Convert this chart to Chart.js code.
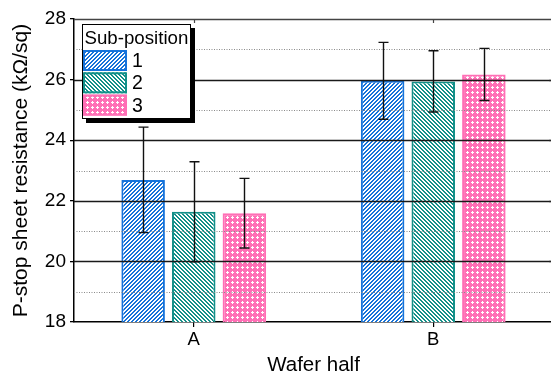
<!DOCTYPE html>
<html>
<head>
<meta charset="utf-8">
<script src="https://cdn.jsdelivr.net/npm/chart.js@4/dist/chart.umd.min.js"></script>
<style>
html,body{margin:0;padding:0;background:#fff;overflow:hidden;}
#wrap{width:551px;height:378px;overflow:hidden;}
</style>
</head>
<body>
<div id="wrap"><canvas id="c" width="556" height="378"></canvas></div>
<script>
// ---- data ----
const categories = ['A', 'B'];
const seriesLabels = ['1', '2', '3'];
const legendTitle = 'Sub-position';
const sub1 = [22.69, 25.96];
const sub1Err = [1.74, 1.27];
const sub2 = [21.64, 25.94];
const sub2Err = [1.65, 1.01];
const sub3 = [21.59, 26.17];
const sub3Err = [1.15, 0.86];
const yMin = 18, yMax = 28;
const xTitle = 'Wafer half';
const yTitle = 'P-stop sheet resistance (k\u03A9/sq)';

const FONT = "'Liberation Sans', Arial, sans-serif";

function makePattern(kind, color) {
  const n = kind === 'dots' ? 5 : 4;
  const c = document.createElement('canvas');
  c.width = n; c.height = n;
  const g = c.getContext('2d');
  g.fillStyle = '#fff';
  g.fillRect(0, 0, n, n);
  g.fillStyle = color;
  for (let x = 0; x < n; x++) for (let y = 0; y < n; y++) {
    let on = false;
    if (kind === 'fwd') on = ((x + y) % 4) < 2;
    else if (kind === 'back') on = (((x - y) % 4) + 4) % 4 < 2;
    else {
      const plus = (x === 2 && y >= 1 && y <= 3) || (y === 2 && x >= 1 && x <= 3);
      on = !plus;
    }
    if (on) g.fillRect(x, y, 1, 1);
  }
  return document.getElementById('c').getContext('2d').createPattern(c, 'repeat');
}

const colors = ['#1673da', '#139089', '#ff6fb5'];
const pats = [makePattern('fwd', colors[0]), makePattern('back', colors[1]), makePattern('dots', colors[2])];
const values = [sub1, sub2, sub3];
const errs = [sub1Err, sub2Err, sub3Err];

const datasets = values.map((v, i) => ({
  label: seriesLabels[i],
  data: v,
  errors: errs[i],
  backgroundColor: pats[i],
  borderColor: colors[i],
  borderWidth: 2,
  borderSkipped: false,
  categoryPercentage: 0.634,
  barPercentage: 0.86
}));

const overlay = {
  id: 'overlay',
  afterDatasetsDraw(chart) {
    const ctx = chart.ctx;
    const ys = chart.scales.y, xs = chart.scales.x;
    const a = chart.chartArea;
    ctx.save();
    // grid lines over bars
    ys.ticks.forEach(t => {
      const v = t.value;
      if (v === yMin) return;
      const y = Math.round(ys.getPixelForValue(v)) + 0.5;
      ctx.beginPath();
      if (v % 2 === 0) {
        ctx.setLineDash([]);
        ctx.strokeStyle = v === yMax ? '#444' : '#1a1a1a';
        ctx.lineWidth = 1.3;
      } else {
        ctx.setLineDash([1, 1.5]);
        ctx.strokeStyle = '#8a8a8a';
        ctx.lineWidth = 1;
      }
      ctx.moveTo(a.left, y);
      ctx.lineTo(a.right, y);
      ctx.stroke();
      if (v % 2 === 0 && v !== yMax) {
        ctx.setLineDash([]);
        ctx.strokeStyle = '#222';
        ctx.lineWidth = 1.3;
        ctx.beginPath();
        ctx.moveTo(a.right - 4, y);
        ctx.lineTo(a.right, y);
        ctx.stroke();
      }
    });
    ctx.setLineDash([]);
    // top ticks inward
    categories.forEach((c, i) => {
      const x = Math.round(xs.getPixelForValue(i)) + 0.5;
      ctx.strokeStyle = '#444';
      ctx.lineWidth = 1.2;
      ctx.beginPath();
      ctx.moveTo(x, a.top);
      ctx.lineTo(x, a.top + 4);
      ctx.stroke();
    });
    // error bars
    ctx.strokeStyle = '#111';
    ctx.lineWidth = 1.4;
    chart.data.datasets.forEach((ds, di) => {
      const meta = chart.getDatasetMeta(di);
      meta.data.forEach((el, j) => {
        const v = ds.data[j], e = ds.errors[j];
        const x = Math.round(el.x) + 0.5;
        const yt = ys.getPixelForValue(v + e);
        const yb = ys.getPixelForValue(v - e);
        ctx.beginPath();
        ctx.moveTo(x, yt); ctx.lineTo(x, yb);
        ctx.moveTo(x - 5, yt); ctx.lineTo(x + 5, yt);
        ctx.moveTo(x - 5, yb); ctx.lineTo(x + 5, yb);
        ctx.stroke();
      });
    });
    // legend
    const lx = 82, ly = 24, lw = 109, lh = 95;
    ctx.fillStyle = '#000';
    ctx.fillRect(lx + 4, ly + 4, lw, lh);
    ctx.fillStyle = '#fff';
    ctx.fillRect(lx, ly, lw, lh);
    ctx.strokeStyle = '#000';
    ctx.lineWidth = 1;
    ctx.strokeRect(lx + 0.5, ly + 0.5, lw - 1, lh - 1);
    ctx.fillStyle = '#000';
    ctx.font = '18.7px ' + FONT;
    ctx.textBaseline = 'alphabetic';
    ctx.textAlign = 'left';
    ctx.fillText(legendTitle, lx + 2.5, ly + 19.5);
    chart.data.datasets.forEach((ds, di) => {
      const sy = ly + 26 + di * 22.3;
      ctx.fillStyle = ds.backgroundColor;
      ctx.fillRect(lx + 1, sy, 44, 21);
      ctx.strokeStyle = ds.borderColor;
      ctx.lineWidth = 2;
      ctx.strokeRect(lx + 2, sy + 1, 42, 19);
      ctx.fillStyle = '#000';
      ctx.font = '19.5px ' + FONT;
      ctx.fillText(ds.label, lx + 50, sy + 17);
    });
    ctx.restore();
  }
};

new Chart(document.getElementById('c'), {
  type: 'bar',
  data: { labels: categories, datasets },
  plugins: [overlay],
  options: {
    responsive: false,
    animation: false,
    devicePixelRatio: 1,
    layout: { padding: { top: 19, right: 3, left: 0, bottom: 0 } },
    plugins: { legend: { display: false }, tooltip: { enabled: false } },
    scales: {
      x: {
        offset: true,
        grid: { offset: false, drawOnChartArea: false, tickLength: 5, color: '#000', lineWidth: 1.2 },
        border: { display: true, color: '#000', width: 1.5 },
        ticks: { color: '#000', font: { family: FONT, size: 18.5 }, padding: 2 },
        title: { display: true, text: xTitle, color: '#000', font: { family: FONT, size: 20.5 }, padding: { top: 2, bottom: 0 } },
        afterFit(s) { s.height = 56; }
      },
      y: {
        min: yMin, max: yMax,
        grid: {
          drawOnChartArea: false, tickLength: 4, lineWidth: 1.3,
          color: c => (c.tick && c.tick.value % 2 === 0) ? '#000' : 'rgba(0,0,0,0)'
        },
        border: { display: true, color: '#000', width: 1.5 },
        ticks: {
          stepSize: 1, autoSkip: false, color: '#000', padding: 4,
          font: { family: FONT, size: 19 },
          callback: v => (v % 2 === 0 ? String(v) : '')
        },
        title: { display: true, text: yTitle, color: '#000', font: { family: FONT, size: 21 }, padding: { top: 9, bottom: 0 } },
        afterFit(s) { s.width = 74; }
      }
    }
  }
});
</script>
</body>
</html>
